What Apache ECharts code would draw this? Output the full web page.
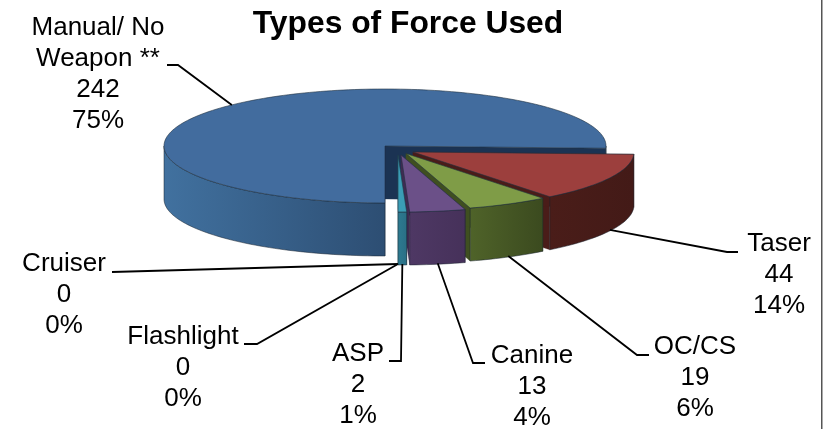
<!DOCTYPE html>
<html><head><meta charset="utf-8">
<script src="https://cdn.jsdelivr.net/npm/echarts@6/dist/echarts.min.js"></script>
<style>html,body{margin:0;padding:0;background:#fff}#c{width:831px;height:429px}</style>
</head><body><div id="c"></div>
<script>
const categories = ['Manual/ No\nWeapon **','Taser','OC/CS','Canine','ASP','Flashlight','Cruiser'];
const counts = [242,44,19,13,2,0,0];
const percents = ['75%','14%','6%','4%','1%','0%','0%'];
const title = 'Types of Force Used';

// layout & style (not data)
const RX=221, RY=57, DEPTH=53, FIRST_ANGLE=90;
const centers=[[385,146],[413,152],[406,153.5],[401,155],[398,155],[398,155],[398,155]];
const topColors=['#426C9E','#9C3F3D','#7F9C47','#6B5088','#3A9DB5','#3A9DB5','#3A9DB5'];
const wallColors=[['#41719F','#2D4E73'],['#4A1D19','#431A17'],['#4F6329','#3B4A1F'],['#4E3864','#46315A'],['#2D7A90','#2A6F85'],['#000','#000'],['#000','#000']];
const faceColors=['#1B3353','#4A1C19','#3F4F20','#3F2B52','#215766','#000','#000'];
const labelPos=[[98,74],[779,275],[695,378],[532,387],[358,385],[183,368],[64,295]];
const leaderElbows=[[[167,65],[178,65]],[[738,252],[727,252]],[[649,355],[637,355]],[[485,363],[473,363]],[[389,361],[401,361]],[[244,344],[257,344]],[[112,272]]];

const total=counts.reduce((a,b)=>a+b,0);
const starts=[];let acc=FIRST_ANGLE;
counts.forEach(v=>{starts.push(acc);acc+=v/total*360;});
const rad=d=>d*Math.PI/180;
const pt=(c,a,dz)=>[c[0]+RX*Math.cos(rad(a)),c[1]+RY*Math.sin(rad(a))+(dz||0)];
function arc(c,a,b,dz){const n=Math.max(2,Math.ceil(Math.abs(b-a)/1.5));const r=[];for(let i=0;i<=n;i++)r.push(pt(c,a+(b-a)*i/n,dz));return r;}
function poly(points,fill,stroke){return {type:'polygon',shape:{points},style:{fill,stroke:stroke||fill,lineWidth:stroke?0.6:0.3}};}

function renderSlice(params,api){
  const i=params.dataIndex, v=api.value(0);
  if(!v) return {type:'group',children:[]};
  const a=starts[i], b=a+v/total*360, c=centers[i], kids=[];
  const base=[c[0],c[1]];
  const face=(ang)=>poly([base,pt(c,ang),pt(c,ang,DEPTH),[c[0],c[1]+DEPTH]],faceColors[i]);
  kids.push(face(b)); kids.push(face(a));
  [[0,180],[360,540]].forEach(([lo,hi])=>{
    const s=Math.max(a,lo),e=Math.min(b,hi);
    if(e>s){
      const pts=arc(c,s,e,0).concat(arc(c,e,s,DEPTH));
      kids.push({type:'polygon',shape:{points:pts},style:{
        fill:new echarts.graphic.LinearGradient(0,0,1,0,[{offset:0,color:wallColors[i][0]},{offset:1,color:wallColors[i][1]}]),
        stroke:'#16202c',lineWidth:0.5}});
    }
  });
  kids.push(poly([base].concat(arc(c,a,b,0)),topColors[i],'#20303f'));
  return {type:'group',children:kids};
}

function anchor(i){
  const a=starts[i]+counts[i]/total*180, c=centers[i];
  const s=Math.sin(rad(a));
  return pt(c,a,s>0?DEPTH-1:0);
}
function renderLabel(params,api){
  const i=params.dataIndex;
  const pts=leaderElbows[i].concat([anchor(i)]);
  return {type:'group',children:[
    {type:'polyline',shape:{points:pts},style:{fill:'none',stroke:'#000',lineWidth:1.8}},
    {type:'text',x:labelPos[i][0],y:labelPos[i][1],style:{
      text:categories[i]+'\n'+api.value(0)+'\n'+percents[i],
      font:'26px "Liberation Sans"',lineHeight:31,fill:'#000',align:'center',verticalAlign:'middle'}}
  ]};
}
const chart=echarts.init(document.getElementById('c'),null,{renderer:'canvas'});
chart.setOption({
  animation:false,
  backgroundColor:'#fff',
  title:{text:title,left:403,top:3,textAlign:'center',textStyle:{fontFamily:'Liberation Sans',fontSize:31.8,fontWeight:'bold',color:'#000'}},
  graphic:[{type:'rect',shape:{x:821,y:0,width:1.5,height:429},style:{fill:'#555'},silent:true}],
  series:[
    {type:'custom',coordinateSystem:'none',renderItem:renderSlice,data:counts.map(v=>[v]),silent:true,z:2},
    {type:'custom',coordinateSystem:'none',renderItem:renderLabel,data:counts.map(v=>[v]),silent:true,z:3}
  ]
});
</script></body></html>
